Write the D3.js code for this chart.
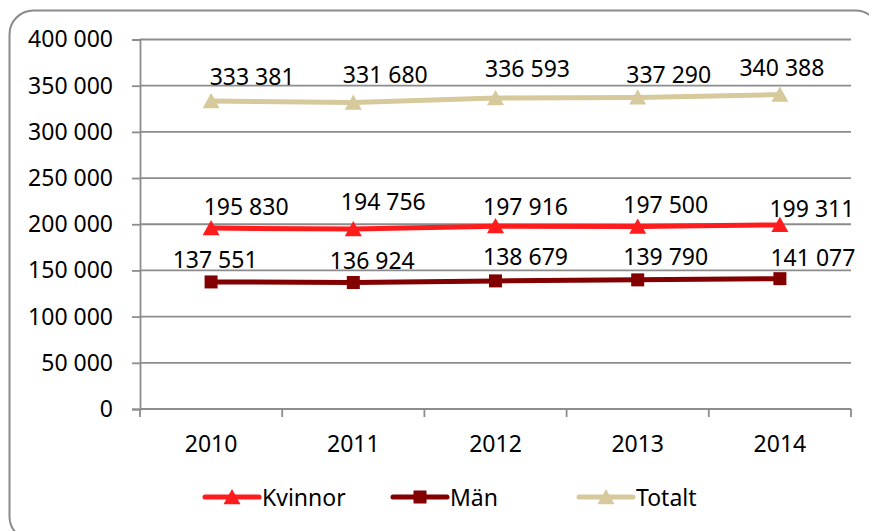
<!DOCTYPE html>
<html>
<head>
<meta charset="utf-8">
<script src="https://cdn.jsdelivr.net/npm/d3@7"></script>
<style>
	body { margin: 0; background: #fff; }
	svg text { font-family: "Noto Sans", "Open Sans", sans-serif; font-size: 23px; fill: #000; }
</style>
</head>
<body>
<div id="chart"></div>
<script>
// chart data
const years = ["2010", "2011", "2012", "2013", "2014"];
const kvinnor = [195830, 194756, 197916, 197500, 199311];
const man = [137551, 136924, 138679, 139790, 141077];
const totalt = [333381, 331680, 336593, 337290, 340388];
const yTicks = [0, 50000, 100000, 150000, 200000, 250000, 300000, 350000, 400000];

const series = [
	{ label: "Kvinnor", values: kvinnor, color: "#ff1c1c", marker: "triangle" },
	{ label: "Män", values: man, color: "#820000", marker: "square" },
	{ label: "Totalt", values: totalt, color: "#d6c99c", marker: "triangle" },
];

// hand-placed label nudges (px), as in the source chart
const labelNudge = {
	"Kvinnor": [[35, -22], [30, -28], [30, -20], [28, -23], [32, -17]],
	"Män": [[4, -23], [19, -23], [30, -25], [28, -24], [33, -22]],
	"Totalt": [[41, -25], [32, -29], [32, -30], [31, -23], [2, -28]],
};

const width = 869, height = 531;
const margin = { top: 39.5, right: 18, bottom: 122, left: 140 };

const svg = d3.select("#chart")
	.append("svg")
	.attr("width", width)
	.attr("height", height);

// outer frame
svg.append("rect")
	.attr("x", 9.5)
	.attr("y", 10.5)
	.attr("width", 870)
	.attr("height", 530)
	.attr("rx", 24)
	.attr("fill", "none")
	.attr("stroke", "#8a8a8a")
	.attr("stroke-width", 2);

const x = d3.scaleBand()
	.domain(years)
	.range([margin.left, width - margin.right]);
const y = d3.scaleLinear()
	.domain([0, 400000])
	.range([height - margin.bottom, margin.top]);

const fmt = v => d3.format(",")(v).replace(/,/g, " ");

// gridlines
svg.append("g")
	.selectAll("line")
	.data(yTicks.slice(1))
	.enter()
	.append("line")
	.attr("x1", margin.left)
	.attr("x2", width - margin.right)
	.attr("y1", d => y(d))
	.attr("y2", d => y(d))
	.attr("stroke", "#8c8c8c")
	.attr("stroke-width", 1.8);

// y axis
const yAxis = d3.axisLeft(y)
	.tickValues(yTicks)
	.tickSize(8)
	.tickPadding(19)
	.tickFormat(fmt);
const yAxisGroup = svg.append("g")
	.attr("transform", "translate(" + margin.left + ",0)")
	.call(yAxis);
yAxisGroup.select(".domain").attr("stroke", "#8c8c8c").attr("stroke-width", 1.8);
yAxisGroup.selectAll(".tick line").attr("stroke", "#8c8c8c").attr("stroke-width", 1.8);
yAxisGroup.selectAll("text").attr("font-size", null).attr("font-family", null);

// x axis with tick marks at category boundaries
const xAxisGroup = svg.append("g")
	.attr("transform", "translate(0," + y(0) + ")");
xAxisGroup.append("line")
	.attr("x1", margin.left)
	.attr("x2", width - margin.right)
	.attr("stroke", "#8c8c8c")
	.attr("stroke-width", 1.8);
const bounds = years.map(d => x(d)).concat([x(years[years.length - 1]) + x.bandwidth()]);
xAxisGroup.selectAll(".xtick")
	.data(bounds)
	.enter()
	.append("line")
	.attr("x1", d => d)
	.attr("x2", d => d)
	.attr("y1", 0)
	.attr("y2", 8)
	.attr("stroke", "#8c8c8c")
	.attr("stroke-width", 1.8);
xAxisGroup.selectAll(".xlabel")
	.data(years)
	.enter()
	.append("text")
	.attr("x", d => x(d) + x.bandwidth() / 2)
	.attr("y", 43)
	.attr("text-anchor", "middle")
	.text(d => d);

const cx = i => x(years[i]) + x.bandwidth() / 2;

function drawMarker(g, kind, color, px, py, s) {
	if (kind === "square") {
		g.append("rect")
			.attr("x", px - s / 2)
			.attr("y", py - s / 2)
			.attr("width", s)
			.attr("height", s)
			.attr("fill", color);
	} else {
		const h = s * 0.95;
		g.append("path")
			.attr("d", `M${px},${py - h / 2 - 1}L${px + s / 2 + 1},${py + h / 2}L${px - s / 2 - 1},${py + h / 2}Z`)
			.attr("fill", color);
	}
}

// lines, markers and labels
const line = d3.line()
	.x((d, i) => cx(i))
	.y(d => y(d));

for (const s of series) {
	const g = svg.append("g").classed("series", true);
	g.append("path")
		.datum(s.values)
		.attr("d", line)
		.attr("fill", "none")
		.attr("stroke", s.color)
		.attr("stroke-width", 5)
		.attr("stroke-linejoin", "round");
	s.values.forEach((v, i) => drawMarker(g, s.marker, s.color, cx(i), y(v), s.marker === "square" ? 13 : 15));
	g.selectAll("text")
		.data(s.values)
		.enter()
		.append("text")
		.attr("x", (d, i) => cx(i) + labelNudge[s.label][i][0])
		.attr("y", (d, i) => y(d) + labelNudge[s.label][i][1])
		.attr("text-anchor", "middle")
		.attr("dominant-baseline", "central")
		.text(fmt);
}

// legend
const legendX = [205, 393, 579];
const legendY = 497;
series.forEach((s, i) => {
	const g = svg.append("g").attr("transform", `translate(${legendX[i]},${legendY})`);
	g.append("line")
		.attr("x1", 0)
		.attr("x2", 54)
		.attr("stroke", s.color)
		.attr("stroke-width", 5)
		.attr("stroke-linecap", "round");
	drawMarker(g, s.marker, s.color, 27, 0, s.marker === "square" ? 13 : 15);
	g.append("text")
		.attr("x", 57)
		.attr("y", 0)
		.attr("dominant-baseline", "central")
		.text(s.label);
});
</script>
</body>
</html>
